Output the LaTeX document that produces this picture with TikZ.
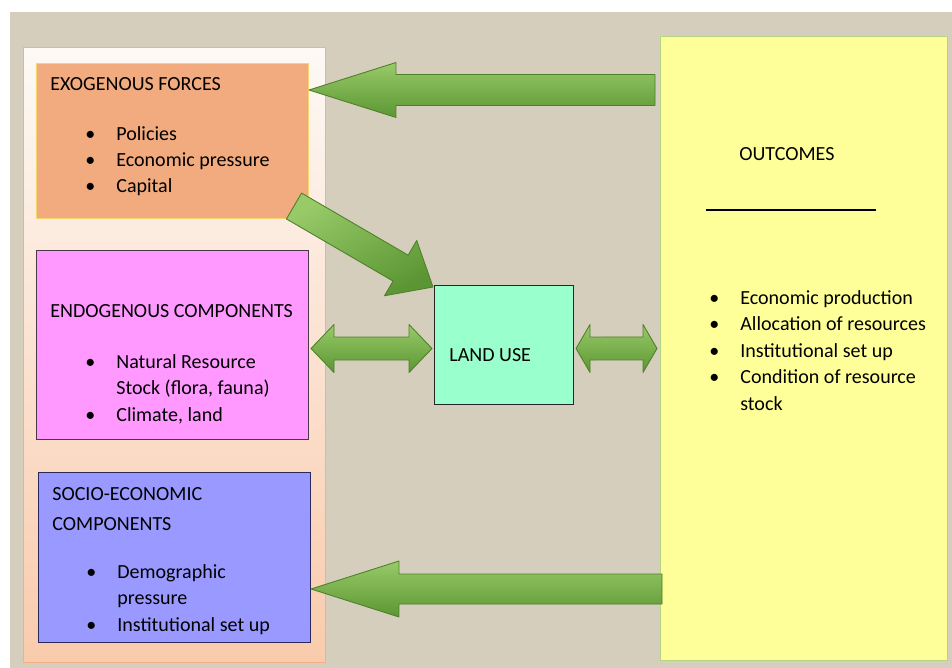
\documentclass[tikz,border=0pt]{standalone}
\usepackage{fontspec}
\setmainfont{Carlito}
\usepackage{tikz}
\usetikzlibrary{positioning, calc}

\definecolor{bgbeige}{RGB}{214,206,188}
\definecolor{paneltop}{RGB}{253,249,245}
\definecolor{panelbot}{RGB}{249,203,172}
\definecolor{panelline}{RGB}{244,176,132}
\definecolor{exofill}{RGB}{241,171,126}
\definecolor{exoline}{RGB}{246,212,110}
\definecolor{endofill}{RGB}{255,153,255}
\definecolor{endoline}{RGB}{75,55,75}
\definecolor{sociofill}{RGB}{153,153,255}
\definecolor{socioline}{RGB}{40,40,90}
\definecolor{landfill}{RGB}{153,255,204}
\definecolor{outcfill}{RGB}{255,255,153}
\definecolor{outcline}{RGB}{180,214,130}
\definecolor{arrtop}{RGB}{152,202,104}
\definecolor{arrbot}{RGB}{92,150,52}
\definecolor{arrline}{RGB}{78,128,42}

\tikzset{
    box/.style={draw, line width=0.6pt, anchor=north west, inner sep=0pt},
    txt/.style={anchor=base west, inner sep=0pt, align=left,
        font=\fontsize{11.4pt}{15pt}\selectfont},
    fat/.style={draw=arrline, line width=0.5pt, line join=round,
        top color=arrtop, bottom color=arrbot}
}

% single block arrow: from, to, shaft half, head half, head length
\newcommand\blockarrow[6][]{%
    \path[fat,#1] ($(#2)!#4!90:(#3)$)
        -- ($(#3)!#6!(#2)!#4!-90:(#2)$) -- ($(#3)!#6!(#2)!#5!-90:(#2)$)
        -- (#3)
        -- ($(#3)!#6!(#2)!#5!90:(#2)$) -- ($(#3)!#6!(#2)!#4!90:(#2)$)
        -- ($(#2)!#4!-90:(#3)$) -- cycle;}
% double block arrow: end, end, shaft half, head half, head length
\newcommand\dblarrow[5]{%
    \path[fat] (#1)
        -- ($(#1)!#5!(#2)!#4!90:(#2)$) -- ($(#1)!#5!(#2)!#3!90:(#2)$)
        -- ($(#2)!#5!(#1)!#3!-90:(#1)$) -- ($(#2)!#5!(#1)!#4!-90:(#1)$)
        -- (#2)
        -- ($(#2)!#5!(#1)!#4!90:(#1)$) -- ($(#2)!#5!(#1)!#3!90:(#1)$)
        -- ($(#1)!#5!(#2)!#3!-90:(#2)$) -- ($(#1)!#5!(#2)!#4!-90:(#2)$)
        -- cycle;}
\newcommand\bul{\makebox[0.62cm][l]{\textbullet}}

\begin{document}
\begin{tikzpicture}[x=0.02cm, y=-0.02cm]
    \useasboundingbox[fill=white] (0,0) rectangle (952,668);
    \fill[bgbeige] (10,12) rectangle (952,668);

    % left panel and boxes
    \node[box, draw=panelline, top color=paneltop, bottom color=panelbot,
        minimum width=6.04cm, minimum height=12.3cm] (panel) at (23,47) {};
    \node[box, draw=exoline, fill=exofill, minimum width=5.44cm, minimum height=3.1cm] (exo) at (36,63) {};
    \node[box, draw=endoline, fill=endofill, minimum width=5.44cm, minimum height=3.78cm] (endo) at (36,250) {};
    \node[box, draw=socioline, fill=sociofill, minimum width=5.44cm, minimum height=3.4cm] (socio) at (38,472) {};
    \node[box, draw=black!85, fill=landfill, minimum width=2.78cm, minimum height=2.38cm] (land) at (434,285) {};
    \node[box, draw=outcline, fill=outcfill, minimum width=5.74cm, minimum height=12.48cm] (outc) at (660,36) {};

    % texts (multi-line nodes sit on their last baseline)
    \node[txt] (exo-t) at ([shift={(14,28)}]exo.north west) {EXOGENOUS FORCES};
    \node[txt] (exo-l) at ([shift={(49,130)}]exo.north west)
        {\bul Policies\\ \bul Economic pressure\\ \bul Capital};
    \node[txt] (endo-t) at ([shift={(14,68)}]endo.north west) {ENDOGENOUS COMPONENTS};
    \node[txt] (endo-l) at ([shift={(49,171)}]endo.north west)
        {\bul Natural Resource\\ \hspace*{0.62cm}Stock (flora, fauna)\\ \bul Climate, land};
    \node[txt] (socio-t) at ([shift={(14,58)}]socio.north west) {SOCIO-ECONOMIC\\[2pt] COMPONENTS};
    \node[txt] (socio-l) at ([shift={(48,159)}]socio.north west)
        {\bul Demographic\\ \hspace*{0.62cm}pressure\\ \bul Institutional set up};
    \node[txt] (land-t) at ([shift={(15,76)}]land.north west) {LAND USE};
    \node[txt] (outc-t) at ([shift={(79,125)}]outc.north west) {OUTCOMES};
    \draw[line width=1pt] ([shift={(46,174)}]outc.north west) coordinate (rule-a) -- ++(170,0) coordinate (rule-b);
    \node[txt] (outc-l) at ([shift={(49,374)}]outc.north west)
        {\bul Economic production\\ \bul Allocation of resources\\ \bul Institutional set up\\
         \bul Condition of resource\\ \hspace*{0.62cm}stock};

    % block arrows
    \coordinate (a1) at ([shift={(-5,54)}]outc.north west);
    \coordinate (b1) at ([shift={(0,27)}]exo.north east);
    \blockarrow{a1}{b1}{0.31cm}{0.55cm}{1.74cm}
    \coordinate (a2) at ([shift={(2,553)}]outc.north west);
    \coordinate (b2) at ([shift={(0,117)}]socio.north east);
    \blockarrow{a2}{b2}{0.3cm}{0.56cm}{1.76cm}
    \coordinate (a3) at ([shift={(-15,-13)}]exo.south east);
    \coordinate (b3) at ([shift={(-1,2)}]land.north west);
    \blockarrow[shading angle=30]{a3}{b3}{0.3cm}{0.64cm}{0.75cm}
    \dblarrow{$(endo.east)+(2,3.5)$}{$(land.west)+(-2,3.5)$}{0.23cm}{0.48cm}{0.46cm}
    \dblarrow{$(land.east)+(2,3.5)$}{$(outc.west)+(-3,0)$}{0.23cm}{0.48cm}{0.28cm}
\end{tikzpicture}
\end{document}
